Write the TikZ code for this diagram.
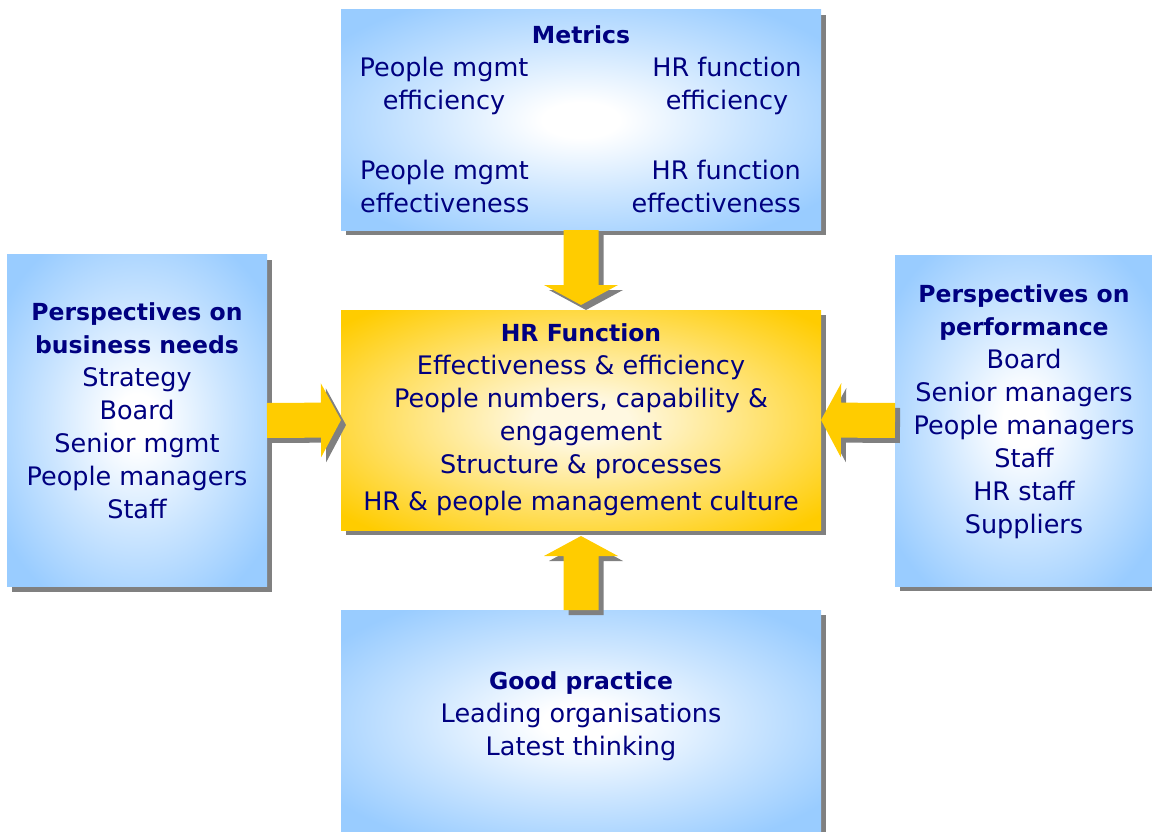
\documentclass[tikz,border=0pt]{standalone}
\usepackage{fontspec}
\setmainfont{DejaVu Sans}
\usetikzlibrary{calc,shadows}
\definecolor{boxblue}{RGB}{153,204,255}
\definecolor{boxyellow}{RGB}{255,204,0}
\definecolor{paleyellow}{RGB}{255,248,225}
\definecolor{navytext}{RGB}{0,0,128}
\definecolor{shadowgray}{RGB}{128,128,128}
\definecolor{arrowyellow}{RGB}{255,204,0}
\pgfdeclareradialshading{bluesoft}{\pgfpoint{0bp}{0bp}}{color(0bp)=(white); color(4bp)=(white); color(17bp)=(boxblue!50!white); color(31bp)=(boxblue); color(50bp)=(boxblue)}
\pgfdeclareradialshading{yellowsoft}{\pgfpoint{0bp}{0bp}}{color(0bp)=(paleyellow); color(5bp)=(paleyellow); color(19bp)=(boxyellow!50!paleyellow); color(33bp)=(boxyellow); color(50bp)=(boxyellow)}
\tikzset{
  boxshadow/.style={drop shadow={shadow xshift=5pt,shadow yshift=-5pt,fill=shadowgray,opacity=1}},
  bluebox/.style={boxshadow,shading=bluesoft,inner sep=0pt,outer sep=0pt},
  yellowbox/.style={boxshadow,shading=yellowsoft,inner sep=0pt,outer sep=0pt},
  boxtext/.style={text=navytext,align=center,inner sep=0pt,font=\fontsize{25.5}{33}\selectfont},
  arrowbody/.style={fill=arrowyellow},
  arrowshadow/.style={fill=shadowgray},
}
\newcommand{\titlefont}{\fontsize{23.5}{33}\selectfont\bfseries}
\newcommand{\blockarrow}[3]{%
  \foreach \sx/\sy/\st in {5/-5/arrowshadow,0/0/arrowbody}{%
    \path[\st] let \p1=(#1), \p2=(#2),
      \n1={atan2(\y2-\y1,\x2-\x1)},
      \n2={veclen(\x2-\x1,\y2-\y1)-#3pt},
      \n3={veclen(\x2-\x1,\y2-\y1)-#3pt-20pt} in
      [shift={(\x1+\sx pt,\y1+\sy pt)}, rotate=\n1]
      (0pt,-17.5pt) -- (\n3,-17.5pt) -- (\n3,-37pt) -- (\n2,0pt)
      -- (\n3,37pt) -- (\n3,17.5pt) -- (0pt,17.5pt) -- cycle;
  }%
}
\begin{document}
\begin{tikzpicture}[x=1pt,y=-1pt]
\useasboundingbox (0,0) rectangle (1152,832);
% boxes
\node[bluebox,minimum width=480pt,minimum height=220pt] (metrics) at (581,120) {};
\node[bluebox,minimum width=260pt,minimum height=332pt] (bn) at (137,420.5) {};
\node[bluebox,minimum width=257pt,minimum height=331pt] (perf) at (1023.5,420.5) {};
\node[yellowbox,minimum width=480pt,minimum height=220pt] (hr) at (581,420) {};
\node[bluebox,minimum width=480pt,minimum height=224pt] (good) at (581,722) {};
% arrows
\blockarrow{metrics.south}{hr.north}{5}
\blockarrow{good.north}{hr.south}{6}
\blockarrow{bn.east}{hr.west}{0}
\blockarrow{perf.west}{hr.east}{0}
% texts
\node[boxtext] (mtitle) at (581,35) {\titlefont Metrics};
\node[boxtext] (m1) at (444,86) {People mgmt\\efficiency};
\node[boxtext] (m2) at (727,86) {HR function\\efficiency};
\node[boxtext,align=left,anchor=west] (m3) at (360,186) {People mgmt\\effectiveness};
\node[boxtext,align=right,anchor=east] (m4) at (801,186) {HR function\\effectiveness};
\node[boxtext] (hrtext) at (581,420) {{\titlefont HR Function}\\Effectiveness \& efficiency\\People numbers, capability \&\\engagement\\Structure \& processes\\[4pt]HR \& people management culture};
\node[boxtext] (bntext) at (137,411) {{\titlefont Perspectives on}\\{\titlefont business needs}\\Strategy\\Board\\Senior mgmt\\People managers\\Staff};
\node[boxtext] (perftext) at (1024,412) {{\titlefont Perspectives on}\\{\titlefont performance}\\Board\\Senior managers\\People managers\\Staff\\HR staff\\Suppliers};
\node[boxtext] (goodtext) at (581,716) {{\titlefont Good practice}\\Leading organisations\\Latest thinking};
\end{tikzpicture}
\end{document}
